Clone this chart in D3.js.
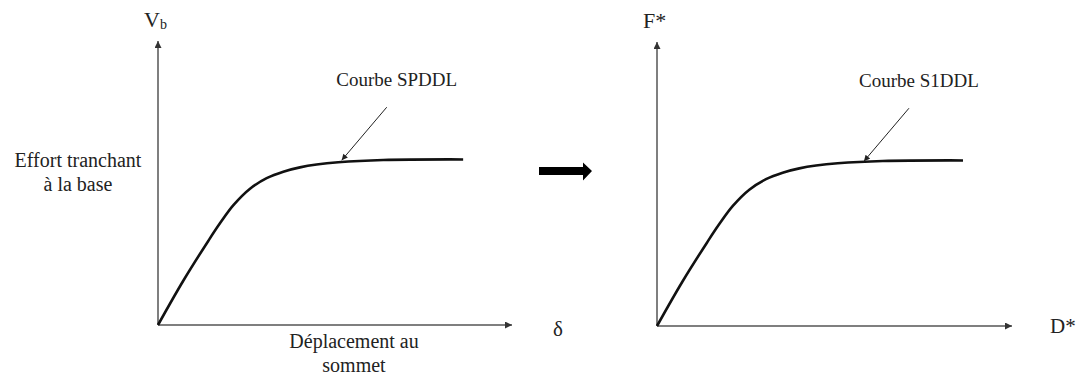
<!DOCTYPE html>
<html>
<head>
<meta charset="utf-8">
<script src="https://cdn.jsdelivr.net/npm/d3@7"></script>
<style>
  body { margin: 0; background: #fff; }
</style>
</head>
<body>
<div class="canvas"></div>
<script>
// pushover curve (units 0-100 on both axes)
const displacement = [0, 7.1, 14.2, 17.5, 21.3, 26, 30.7, 35.4, 40.1, 44.8, 50.9, 63.6, 86.2];
const force = [0, 15.5, 29.6, 35.8, 42.2, 48.0, 51.7, 54, 55.5, 56.5, 57.3, 58.1, 58.3];

const panelNames = ['SPDDL', 'S1DDL'];
const curveLabels = ['Courbe SPDDL', 'Courbe S1DDL'];
const yLabels = ['V', 'F*'];
const xLabels = ['δ', 'D*'];
const pointedAt = [51.9, 58.3];   // displacement where the label arrow lands
const leftTitle = ['Effort tranchant', 'à la base'];
const bottomTitle = ['Déplacement au', 'sommet'];

const width = 1077, height = 376;

const svg = d3.select('.canvas').append('svg')
    .attr('width', width)
    .attr('height', height);

// every label goes through here so the serif face sticks
const label = (parent, size) => parent.append('text')
    .style('font-family', '"Liberation Serif"')
    .attr('font-size', size)
    .attr('fill', '#222');

const defs = svg.append('defs');
defs.append('marker')
    .attr('id', 'axisHead')
    .attr('viewBox', '0 0 10 10')
    .attr('refX', 10).attr('refY', 5)
    .attr('markerWidth', 8).attr('markerHeight', 7)
    .attr('markerUnits', 'userSpaceOnUse')
    .attr('orient', 'auto')
  .append('path')
    .attr('d', 'M0,0L10,5L0,10Z')
    .attr('fill', '#333');

defs.append('marker')
    .attr('id', 'noteHead')
    .attr('viewBox', '0 0 10 10')
    .attr('refX', 10).attr('refY', 5)
    .attr('markerWidth', 7).attr('markerHeight', 6)
    .attr('markerUnits', 'userSpaceOnUse')
    .attr('orient', 'auto')
  .append('path')
    .attr('d', 'M0,0L10,5L0,10Z')
    .attr('fill', '#222');

const panels = [
    { left: 158, bottom: 325, w: 354, h: 284 },
    { left: 657, bottom: 326, w: 355, h: 284 }
];

panels.forEach((p, i) => {
    const x = d3.scaleLinear().domain([0, 100]).range([0, p.w]);
    const y = d3.scaleLinear().domain([0, 100]).range([p.h, 0]);

    const graph = svg.append('g')
        .attr('class', 'panel-' + panelNames[i])
        .attr('transform', `translate(${p.left}, ${p.bottom - p.h})`);

    // axes
    graph.append('line')
        .attr('x1', x(0)).attr('y1', y(0))
        .attr('x2', x(100)).attr('y2', y(0))
        .attr('stroke', '#555').attr('stroke-width', 1.5)
        .attr('marker-end', 'url(#axisHead)');
    graph.append('line')
        .attr('x1', x(0)).attr('y1', y(0))
        .attr('x2', x(0)).attr('y2', y(100))
        .attr('stroke', '#555').attr('stroke-width', 1.5)
        .attr('marker-end', 'url(#axisHead)');

    // curve
    const pts = displacement.map((d, k) => [d, force[k]]);
    const line = d3.line()
        .x(d => x(d[0]))
        .y(d => y(d[1]))
        .curve(d3.curveCatmullRom.alpha(0.5));

    graph.append('path')
        .datum(pts)
        .attr('d', line)
        .attr('fill', 'none')
        .attr('stroke', '#111')
        .attr('stroke-width', 2.6);

    // label + pointer
    const tipX = x(pointedAt[i]);
    const tipY = y(d3.max(force)) + 0.8;
    graph.append('line')
        .attr('x1', tipX + 45).attr('y1', tipY - 53)
        .attr('x2', tipX).attr('y2', tipY)
        .attr('stroke', '#222').attr('stroke-width', 1)
        .attr('marker-end', 'url(#noteHead)');

    label(graph, 19)
        .attr('x', tipX + 55)
        .attr('y', tipY - 74)
        .attr('text-anchor', 'middle')
        .text(curveLabels[i]);

    // axis names
    const yName = label(graph, 22)
        .attr('x', x(0) - 14)
        .attr('y', y(100) - 14);
    yName.append('tspan').text(yLabels[i]);
    if (i === 0) {
        yName.append('tspan')
            .attr('font-size', 14)
            .attr('dy', 2)
            .text('b');
    }

    label(graph, 21)
        .attr('x', i === 0 ? x(100) + 46 : x(100) + 38)
        .attr('y', y(0) + (i === 0 ? 11 : 7))
        .attr('text-anchor', i === 0 ? 'middle' : 'start')
        .text(xLabels[i]);
});

// left panel titles
leftTitle.forEach((t, k) => {
    label(svg, 20)
        .attr('x', 78)
        .attr('y', 167 + k * 24)
        .attr('text-anchor', 'middle')
        .text(t);
});

bottomTitle.forEach((t, k) => {
    label(svg, 20)
        .attr('x', 354)
        .attr('y', 348 + k * 24)
        .attr('text-anchor', 'middle')
        .text(t);
});

// big arrow between the two panels
svg.append('path')
    .attr('d', 'M539,167H583V162.5L592,171L583,180.5V175H539Z')
    .attr('fill', '#000');
</script>
</body>
</html>
